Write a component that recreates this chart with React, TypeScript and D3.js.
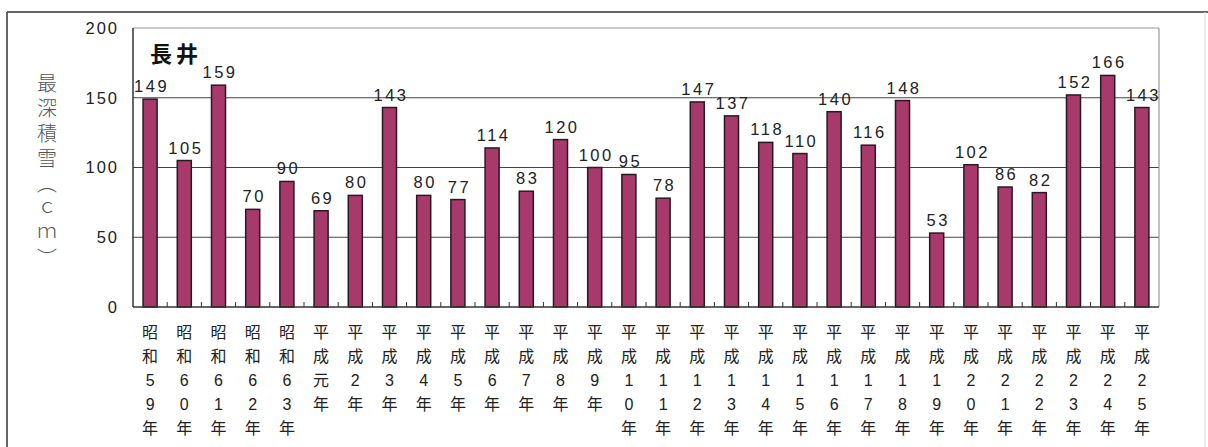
import React from "react";
import * as d3 from "d3";

const categories = [
  "昭和59年", "昭和60年", "昭和61年", "昭和62年", "昭和63年",
  "平成元年", "平成2年", "平成3年", "平成4年", "平成5年", "平成6年", "平成7年", "平成8年", "平成9年",
  "平成10年", "平成11年", "平成12年", "平成13年", "平成14年", "平成15年", "平成16年", "平成17年",
  "平成18年", "平成19年", "平成20年", "平成21年", "平成22年", "平成23年", "平成24年", "平成25年",
];
const values = [
  149, 105, 159, 70, 90, 69, 80, 143, 80, 77, 114, 83, 120, 100, 95,
  78, 147, 137, 118, 110, 140, 116, 148, 53, 102, 86, 82, 152, 166, 143,
];
const yTicks = [0, 50, 100, 150, 200];
const title = "長井";
const yTitle = "最深積雪（ｃｍ）";

const W = 1208;
const H = 447;
const plot = { left: 133, right: 1159, top: 28, bottom: 307 };
const font = "'Liberation Sans', Arial, 'Noto Sans CJK JP', sans-serif";

export default function App() {
  const x = d3.scaleBand<string>().domain(categories).range([plot.left, plot.right]).padding(0);
  const y = d3.scaleLinear().domain([0, 200]).range([plot.bottom, plot.top]);
  const bw = x.bandwidth() * 0.41;

  return (
    <svg width={W} height={H} style={{ position: "absolute", left: 0, top: 0, background: "#fff" }}>
      {/* outer frame */}
      <line x1={7} y1={12} x2={W} y2={12} stroke="#333" strokeWidth={1.5} />
      <line x1={7} y1={12} x2={7} y2={H} stroke="#333" strokeWidth={1.5} />
      <line x1={1205} y1={12} x2={1205} y2={H} stroke="#ddd" strokeWidth={1} />

      {/* grid */}
      {yTicks.filter((t) => t > 0 && t < 200).map((t) => (
        <line key={t} x1={plot.left} x2={plot.right} y1={y(t)} y2={y(t)} stroke="#444" strokeWidth={1} />
      ))}
      {/* plot frame */}
      <line x1={plot.left} x2={plot.right} y1={y(200)} y2={y(200)} stroke="#999" strokeWidth={1.2} />
      <line x1={plot.right} x2={plot.right} y1={plot.top} y2={plot.bottom} stroke="#999" strokeWidth={1.2} />

      {/* bars */}
      {categories.map((c, i) => {
        const cx = (x(c) as number) + x.bandwidth() / 2;
        return (
          <g key={c}>
            <rect x={cx - bw / 2} y={y(values[i])} width={bw} height={plot.bottom - y(values[i])}
              fill="#a8396b" stroke="#2a1820" strokeWidth={1.5} />
            <text x={cx + 1.5} y={y(values[i]) - 7} textAnchor="middle" fontFamily={font} fontSize={16.5}
              letterSpacing={2.5} fill="#222">{values[i]}</text>
          </g>
        );
      })}

      {/* axes */}
      <line x1={plot.left} x2={plot.left} y1={plot.top} y2={plot.bottom} stroke="#333" strokeWidth={1.5} />
      <line x1={plot.left} x2={plot.right} y1={plot.bottom} y2={plot.bottom} stroke="#333" strokeWidth={1.5} />
      {categories.slice(1).map((c) => (
        <line key={"t" + c} x1={x(c) as number} x2={x(c) as number} y1={plot.bottom} y2={plot.bottom - 5}
          stroke="#333" strokeWidth={1} />
      ))}

      {/* y tick labels */}
      {yTicks.map((t) => (
        <text key={t} x={119} y={y(t)} dy="0.36em" textAnchor="end" fontFamily={font} fontSize={16.5}
          letterSpacing={2} fill="#222">{t}</text>
      ))}

      {/* x labels */}
      {categories.map((c) => {
        const cx = (x(c) as number) + x.bandwidth() / 2;
        const chars = Array.from(c);
        return (
          <text key={"l" + c} textAnchor="middle" fontFamily={font} fontSize={16} fill="#222">
            {chars.map((ch, k) => (
              <tspan key={k} x={cx} y={338 + k * 24}>{ch}</tspan>
            ))}
          </text>
        );
      })}

      {/* title */}
      <text x={150} y={62} fontFamily="'Noto Sans CJK JP', sans-serif" fontWeight="bold" fontSize={22}
        letterSpacing={4} fill="#111">{title}</text>

      {/* y axis title */}
      <text x={47} y={73} writingMode="vertical-rl" fontFamily="'Noto Sans CJK JP', sans-serif"
        fontWeight={300} fontSize={20} letterSpacing={5} fill="#555" style={{ writingMode: "vertical-rl" } as any}>{yTitle}</text>
    </svg>
  );
}
